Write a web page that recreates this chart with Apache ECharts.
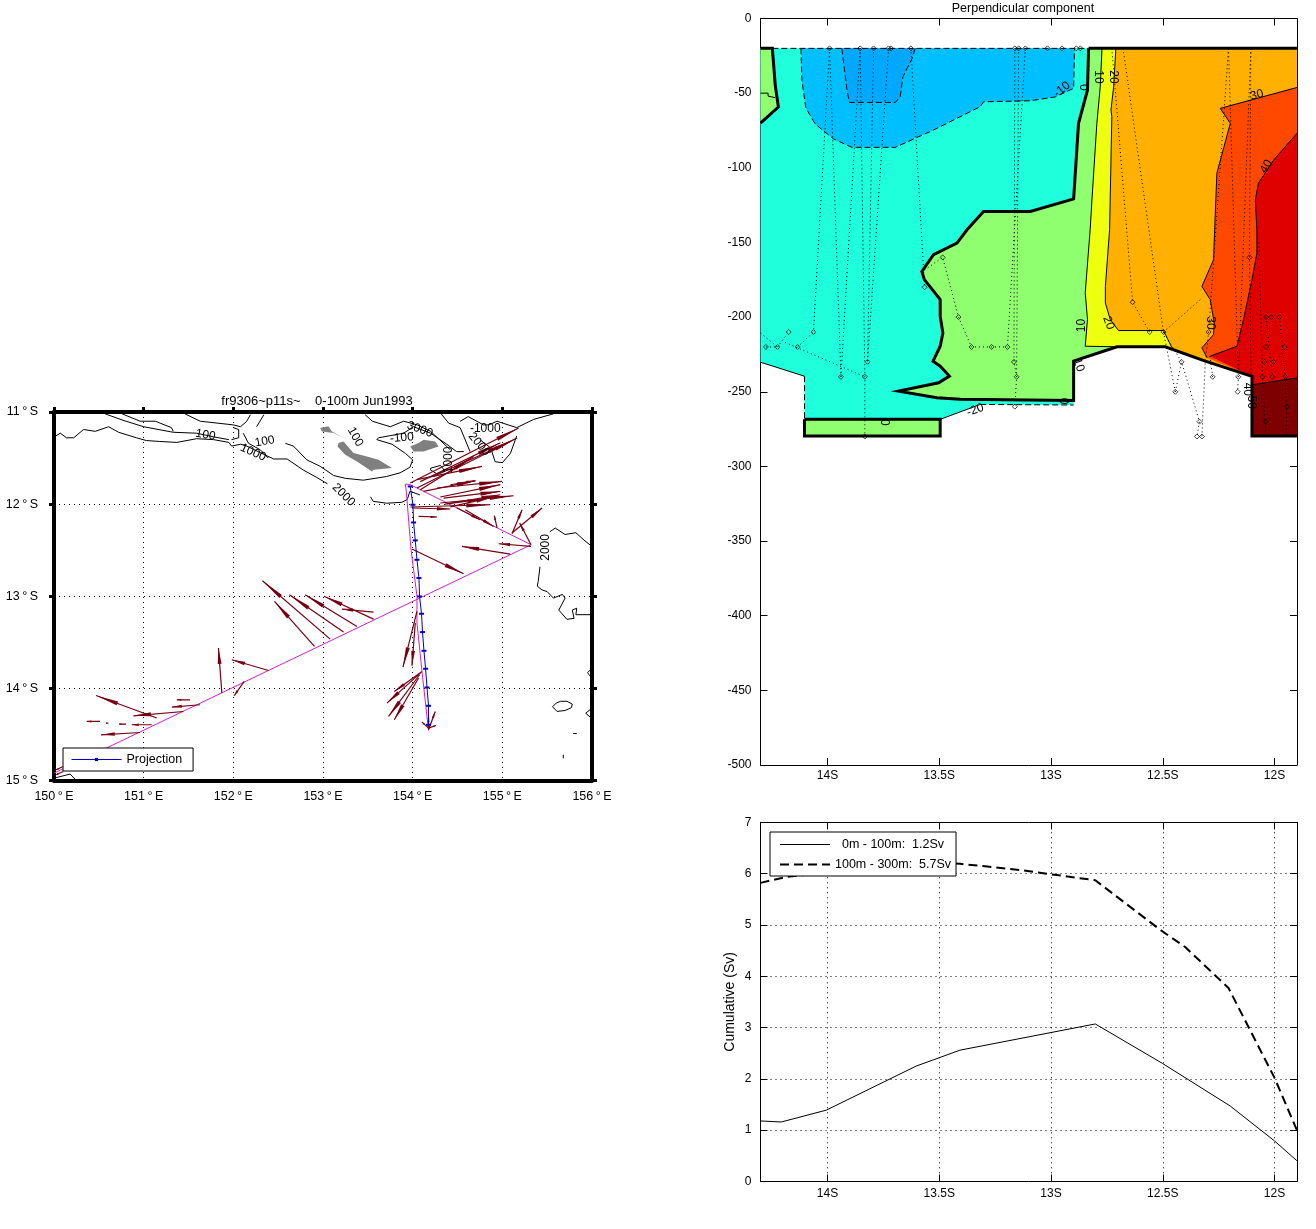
<!DOCTYPE html>
<html>
<head>
<meta charset="utf-8">
<style>html,body{margin:0;padding:0;background:#fff}#c{width:1316px;height:1229px}</style>
<script src="https://cdn.jsdelivr.net/npm/echarts@6/dist/echarts.min.js"></script>
</head>
<body>
<div id="c"></div>
<script>
const FONT = '"Liberation Sans", Arial, sans-serif';

/* ---------- tick labels ---------- */
const mapLonTicks = [150,151,152,153,154,155,156];
const mapLatTicks = [-15,-14,-13,-12,-11];
const sectionLatTicks = [-14,-13.5,-13,-12.5,-12];

/* ---------- cumulative transport (lat, Sv) ---------- */
const upperLayerName = '0m - 100m:  1.2Sv';
const lowerLayerName = '100m - 300m:  5.7Sv';
const upperLayer = [[-14.3,1.18],[-14.207,1.16],[-14.006,1.39],[-13.603,2.25],[-13.407,2.56],[-12.802,3.07],[-12.501,2.30],[-12.198,1.47],[-12.0,0.79],[-11.9,0.405]];
const lowerLayer = [[-14.3,5.82],[-14.18,5.94],[-14.0,6.02],[-13.85,6.15],[-13.63,6.26],[-13.5,6.22],[-13.407,6.19],[-13.286,6.14],[-13.14,6.07],[-12.802,5.87],[-12.51,4.9],[-12.4,4.57],[-12.206,3.77],[-12.0,2.02],[-11.9,1.0]];

/* ---------- section: contour regions (lat, depth) ---------- */
const cyanRegion = [[-14.3,-20],[-12.82,-20],[-12.82,-60],[-12.899,-120.8],[-12.899,-258.9],[-13.317,-258.5],[-13.496,-268.5],[-14.103,-268.5],[-14.103,-239.6],[-14.3,-230.2]];
const blueOuter = [[-14.119,-20],[-14.115,-41.3],[-14.097,-60],[-14.055,-70.7],[-13.973,-80.7],[-13.891,-86.3],[-13.697,-86.3],[-13.526,-74.7],[-13.317,-59.1],[-13.302,-55.8],[-13.093,-55.1],[-12.981,-52.5],[-12.899,-46.8],[-12.895,-20]];
const blueInner = [[-13.936,-20],[-13.913,-48],[-13.902,-56.2],[-13.697,-56.2],[-13.675,-52.5],[-13.663,-39.1],[-13.622,-26.8],[-13.608,-20]];
const greenLeft = [[-14.3,-20],[-14.247,-20],[-14.234,-44.6],[-14.22,-59.3],[-14.3,-70]];
const greenBox = [[-14.103,-268.5],[-13.496,-268.5],[-13.496,-279.7],[-14.103,-279.7],[-14.103,-268.5]];
const greenEdge = [[-12.832,-20],[-12.837,-48],[-12.877,-70.2],[-12.899,-120.8],[-13.093,-129.3],[-13.302,-129.3],[-13.376,-141.5],[-13.421,-150.4],[-13.526,-158.2],[-13.578,-169.4],[-13.567,-174.9],[-13.496,-188.3],[-13.496,-199.5],[-13.484,-210.6],[-13.496,-219.5],[-13.528,-229.5],[-13.496,-232.9],[-13.455,-239.5],[-13.503,-244],[-13.682,-249.6],[-13.511,-254],[-13.406,-255.1],[-12.899,-255.8],[-12.899,-229.5],[-12.705,-219.9],[-12.489,-219.9],[-12.31,-229.5],[-12.101,-239.6],[-12.101,-279.7],[-11.9,-279.7]];
const topRightEdge = [[-12.832,-20],[-11.9,-20]];
const yellowEdge = [[-12.772,-20],[-12.78,-45.8],[-12.795,-70.2],[-12.817,-121.5],[-12.825,-141.5],[-12.847,-183.6],[-12.837,-201.7],[-12.847,-219.5],[-12.705,-219.9]];
const orangeEdge = [[-12.71,-20],[-12.72,-45.8],[-12.732,-61.3],[-12.728,-65.8],[-12.738,-141.5],[-12.757,-179.4],[-12.757,-190.5],[-12.735,-201.7],[-12.698,-209],[-12.497,-209],[-12.459,-220.6]];
const orangeRedEdge = [[-11.9,-46.2],[-12.243,-60.2],[-12.198,-70.2],[-12.258,-103.6],[-12.268,-141.5],[-12.273,-161.6],[-12.325,-179.4],[-12.288,-188.3],[-12.27,-203.9],[-12.273,-211.7],[-12.325,-220.6],[-12.302,-227.3]];
const redEdge = [[-11.9,-76.9],[-12.004,-94.8],[-12.072,-110.3],[-12.086,-121.5],[-12.079,-141.5],[-12.079,-157.1],[-12.101,-174.9],[-12.139,-201.7],[-12.168,-219.5],[-12.288,-226.2]];
const darkRedEdge = [[-12.101,-245.8],[-12.09,-245.1],[-11.9,-240.7]];
const sectionFloorEast = [[-12.705,-219.9],[-12.489,-219.9],[-12.31,-229.5]];
const sectionFloorDeep = [[-12.101,-239.6],[-12.101,-279.7],[-11.9,-279.7]];
const sectionNorthTop = [[-11.9,-20]];
const whiteEdgeWest = [[-14.3,-230.2],[-14.103,-239.6]];
const whiteEdgeStep = [[-14.103,-239.6],[-14.103,-268.5]];
const whiteEdgeBox = [[-13.496,-268.5],[-13.317,-258.5]];
const whiteEdgeFloor = [[-13.317,-258.5],[-12.899,-258.9]];
const surfaceEdge = [[-14.247,-20],[-12.832,-20]];
const smallLeftContour = [[-14.3,-50],[-14.266,-50],[-14.266,-52],[-14.235,-53]];

/* ---------- section: sample stations ---------- */
const stationLat = [-13.991,-13.854,-13.794,-13.727,-13.716,-13.627,-13.162,-13.145,-13.115,-13.016,-12.951,-12.887,-12.869,
 -14.276,-14.224,-14.174,-14.134,-14.063,-13.94,-13.833,-13.821,-13.833,-13.566,-13.485,-13.414,-13.356,-13.266,-13.195,-13.166,-13.154,-13.162,
 -12.635,-12.559,-12.497,-12.444,-12.416,-12.347,-12.336,-12.325,-12.295,-12.277,-12.162,-12.165,-12.112,-12.038,-12.015,-11.978,-12.038,-11.955,-12.045,-12.004,-12.054,-12.01,-11.952,-11.944,-12.04];
const stationDepth = [-20,-20,-20,-20,-20,-20,-20,-20,-20,-20,-20,-20,-20,
 -220,-220,-210,-220,-210,-240,-240,-230,-280,-180,-160,-200,-220,-220,-220,-230,-240,-260,
 -190,-210,-210,-250,-230,-280,-270,-280,-210,-240,-240,-250,-160,-200,-200,-200,-220,-220,-230,-230,-240,-240,-240,-260,-270];
const stationTracks = [
 [[-14.3,-210.6],[-14.224,-220]],[[-14.224,-220],[-14.174,-210]],[[-14.276,-220],[-14.224,-220]],[[-14.134,-220],[-14.063,-210]],
 [[-14.19,-217],[-13.833,-240]],[[-13.991,-20],[-14.063,-210]],[[-13.991,-20],[-13.94,-240]],[[-13.854,-20],[-13.94,-240]],
 [[-13.854,-20],[-13.833,-240],[-13.833,-280]],[[-13.794,-20],[-13.821,-230]],[[-13.727,-20],[-13.821,-230]],[[-13.627,-20],[-13.566,-180]],
 [[-13.581,-170],[-13.485,-160],[-13.414,-200],[-13.356,-220],[-13.266,-220],[-13.195,-220]],
 [[-13.162,-20],[-13.166,-230],[-13.154,-240],[-13.162,-260]],[[-13.145,-20],[-13.154,-240]],[[-13.115,-20],[-13.195,-220]],
 [[-12.728,-20],[-12.635,-190],[-12.559,-210]],[[-12.678,-20],[-12.497,-210],[-12.416,-230],[-12.336,-270],[-12.347,-280]],
 [[-12.497,-210],[-12.444,-250]],[[-12.444,-250],[-12.416,-230]],[[-12.497,-210],[-12.33,-188]],
 [[-12.206,-20],[-12.295,-210],[-12.31,-230],[-12.325,-280]],[[-12.206,-20],[-12.162,-240],[-12.165,-250]],
 [[-12.106,-20],[-12.162,-240]],[[-12.106,-20],[-12.112,-160],[-12.105,-240]],[[-12.277,-240],[-12.29,-225]],
 [[-12.07,-150],[-12.054,-240],[-12.04,-280]],[[-12.038,-200],[-12.01,-240]],[[-11.978,-200],[-11.952,-240],[-11.944,-280]]
];
const sectionLabels = [
 ['0',-13.737,-270.5,90],['-20',-13.339,-262.3,20],['-10',-12.951,-47.5,40],['0',-12.847,-46.2,90],
 ['10',-12.787,-39.1,-90],['20',-12.72,-39.1,-90],['30',-12.079,-51.3,15],['40',-12.037,-99.2,60],
 ['10',-12.862,-205.7,90],['20',-12.743,-203.9,-70],['30',-12.288,-203.9,-90],['0',-12.936,-256.3,90],
 ['10',-12.877,-232.2,-70],['40',-12.121,-248.4,-90],['50',-12.106,-257,-90]
];

/* ---------- map: bathymetry contours (lon, lat) ---------- */
const bathyContours = [
 [[150.02,-11.26],[150.07,-11.23],[150.14,-11.28],[150.22,-11.28],[150.33,-11.19],[150.46,-11.21],[150.61,-11.16],[150.72,-11.22],[150.92,-11.28],[151.03,-11.31],[151.18,-11.32],[151.37,-11.33],[151.59,-11.29],[151.78,-11.30],[151.95,-11.33],[151.98,-11.37],[152.08,-11.35],[152.15,-11.37],[152.34,-11.46],[152.45,-11.51],[152.60,-11.51],[152.78,-11.63],[152.93,-11.71],[153.05,-11.78]],
 [[152.58,-11.34],[152.67,-11.37],[152.82,-11.52],[152.97,-11.59],[153.12,-11.69],[153.25,-11.72],[153.45,-11.74],[153.71,-11.70],[153.86,-11.66],[153.97,-11.60],[154.0,-11.52],[153.92,-11.45],[153.77,-11.35],[153.60,-11.30],[153.62,-11.28],[153.90,-11.23],[154.01,-11.16],[154.2,-11.23],[154.38,-11.35],[154.49,-11.43],[154.57,-11.43]],
 [[150.57,-11.02],[150.77,-11.09],[151.0,-11.16],[151.33,-11.22],[151.59,-11.23],[151.78,-11.27],[151.95,-11.30]],
 [[150.76,-11.02],[150.96,-11.10],[151.13,-11.10],[151.31,-11.17],[151.33,-11.21]],
 [[151.46,-11.02],[151.63,-11.10],[152.0,-11.14],[152.08,-11.16],[152.15,-11.10],[152.19,-11.03]],
 [[152.0,-11.17],[152.06,-11.19],[152.06,-11.28],[151.98,-11.30]],
 [[152.11,-11.23],[152.17,-11.34],[152.3,-11.41],[152.39,-11.5]],
 [[152.26,-11.16],[152.34,-11.03]],
 [[153.47,-11.03],[153.55,-11.10],[153.75,-11.16],[153.90,-11.10],[154.05,-11.14],[154.2,-11.21],[154.42,-11.41]],
 [[154.31,-11.01],[154.40,-11.12],[154.53,-11.17],[154.64,-11.43]],
 [[154.53,-11.10],[154.62,-11.05],[154.79,-11.14],[154.85,-11.14],[154.94,-11.10],[155.16,-11.17],[155.35,-11.08],[155.57,-11.02]],
 [[154.75,-11.30],[154.87,-11.39],[154.92,-11.54],[155.0,-11.55],[155.09,-11.45],[155.16,-11.26]],
 [[154.2,-11.61],[154.31,-11.58],[154.36,-11.64],[154.27,-11.67],[154.2,-11.63],[154.2,-11.61]],
 [[153.53,-11.92],[153.56,-11.97],[153.71,-11.99],[153.88,-11.98],[153.94,-11.95],[153.97,-11.86],[154.08,-11.90]],
 [[155.53,-12.30],[155.59,-12.26],[155.70,-12.33],[155.82,-12.31],[155.91,-12.39],[156.0,-12.46]],
 [[155.42,-12.68],[155.40,-12.84],[155.39,-12.89],[155.44,-12.93],[155.50,-12.95],[155.57,-13.02],[155.67,-12.98],[155.70,-13.02],[155.63,-13.15],[155.72,-13.25],[155.80,-13.24],[155.78,-13.15],[155.83,-13.13],[155.82,-13.2],[156.0,-13.2]],
 [[155.56,-14.20],[155.60,-14.16],[155.65,-14.14],[155.72,-14.14],[155.78,-14.17],[155.77,-14.21],[155.70,-14.24],[155.61,-14.25],[155.56,-14.20]],
 [[155.98,-13.80],[155.95,-13.83],[156.0,-13.89]],
 [[155.98,-14.23],[155.93,-14.27],[155.99,-14.32]],
 [[155.79,-14.49],[155.83,-14.49]],
 [[155.68,-14.72],[155.68,-14.76]],
 [[150.02,-14.97],[150.18,-14.93],[150.25,-15.0]]
];
const bathyLabels = [
 ['100',151.69,-11.25,-10],['100',152.35,-11.32,10],['1000',152.22,-11.44,-25],['2000',153.23,-11.90,-45],
 ['100',153.36,-11.27,-60],['-100',153.88,-11.28,5],['3000',154.08,-11.19,-20],['-1000',154.81,-11.18,0],
 ['2000',154.74,-11.35,-50],['1000',154.40,-11.52,90],['2000',155.48,-12.47,90]
];
const islands = [
 [[153.173,-11.337],[153.229,-11.319],[153.34,-11.445],[153.49,-11.482],[153.619,-11.518],[153.769,-11.608],[153.564,-11.626],[153.546,-11.645],[153.378,-11.536],[153.248,-11.464],[153.162,-11.374]],
 [[152.969,-11.174],[153.061,-11.156],[153.1,-11.211],[153.229,-11.282],[153.117,-11.228],[152.988,-11.211]],
 [[153.973,-11.374],[154.066,-11.337],[154.122,-11.301],[154.252,-11.319],[154.289,-11.374],[154.122,-11.428],[154.01,-11.428]]
];

/* ---------- map: ship track and projection ---------- */
const shipTrack = [[150.0,-14.92],[155.32,-12.441],[153.973,-11.789],[153.917,-11.782],[153.929,-11.862],[153.981,-12.488],[154.048,-13.0],[154.048,-13.291],[154.104,-13.817],[154.177,-14.457]];
const projectionName = 'Projection';
const projectionLine = [[153.973,-11.808],[154.003,-12.007],[154.01,-12.199],[154.029,-12.394],[154.048,-12.604],[154.07,-12.802],[154.077,-13.002],[154.099,-13.19],[154.11,-13.389],[154.126,-13.592],[154.144,-13.787],[154.16,-13.99],[154.177,-14.189],[154.177,-14.395]];

/* ---------- map: current arrows (tail lon, tail lat, tip lon, tip lat) ---------- */
const currentArrows = [
 [152.905,-13.545,152.459,-13.056],[153.08,-13.465,152.325,-12.832],[153.229,-13.389,152.626,-12.984],[153.378,-13.328,152.801,-12.984],[153.564,-13.248,153.017,-13.002],[153.564,-13.172,153.211,-13.139],
 [153.973,-11.771,155.182,-11.174],[154.048,-11.825,155.164,-11.282],[154.085,-11.844,154.68,-11.482],[154.048,-11.735,154.773,-11.591],[154.122,-11.862,154.699,-11.746],[154.271,-11.825,154.997,-11.754],[154.308,-11.923,154.978,-11.789],[154.345,-11.934,154.978,-11.862],[154.308,-11.988,155.126,-11.909],[154.383,-11.996,154.978,-11.898],[153.973,-12.031,154.866,-12.007],[153.992,-12.042,154.42,-12.053],[154.066,-12.134,154.271,-12.14],[154.587,-12.061,154.903,-12.242],
 [154.23,-11.70,155.09,-11.32],[154.085,-11.756,154.978,-11.333],[154.42,-12.03,154.87,-11.93],[154.36,-12.0,154.75,-11.95],[154.42,-11.79,154.70,-11.745],[154.49,-12.04,154.75,-12.17],
 [154.941,-12.259,154.911,-12.126],[155.108,-12.321,155.22,-12.061],[155.108,-12.314,155.443,-12.042],[155.32,-12.441,155.193,-12.205],[155.32,-12.459,154.959,-12.43],[155.089,-12.542,154.55,-12.459],[153.992,-12.488,154.568,-12.756],
 [152.392,-13.806,151.983,-13.689],[151.872,-14.051,151.834,-13.562],[152.121,-13.925,152.009,-14.08],[151.629,-14.178,151.314,-14.203],[151.518,-14.124,151.369,-14.124],[151.443,-14.251,150.885,-14.298],[151.146,-14.322,150.469,-14.077],[151.09,-14.395,150.867,-14.395],[150.804,-14.388,150.725,-14.388],[150.606,-14.377,150.58,-14.377],[150.513,-14.359,150.365,-14.359],[150.96,-14.479,150.525,-14.504],[150.104,-14.848,150.022,-14.884],[150.104,-14.902,150.022,-14.938],
 [154.048,-13.165,153.892,-13.769],[154.029,-13.291,153.992,-13.755],[154.104,-13.817,153.795,-14.034],[154.085,-13.834,153.713,-14.16],[154.077,-13.852,153.731,-14.305],[154.066,-13.888,153.795,-14.341],[154.177,-14.45,154.252,-14.251],[154.177,-14.431,154.104,-14.366],[154.177,-14.431,154.26,-14.403],[154.177,-14.442,154.177,-14.322]
];

/* ---------- text ---------- */
const mapTitle = 'fr9306~p11s~    0-100m Jun1993';
const sectionTitle = 'Perpendicular component';
const cumulativeAxisName = 'Cumulative (Sv)';

/* ---------- colours ---------- */
const C = {inner:'#00a8ff',outer:'#00bfff',cyan:'#1fffdc',green:'#8fff70',yellow:'#efff10',orange:'#ffb000',orangeRed:'#ff4800',red:'#df0000',dark:'#7f0000',arrow:'#750012',track:'#d020d0',proj:'#0000c8',island:'#808080'};

/* ---------- helpers ---------- */
function polygonSeries(points, fill, ax){
  return {type:'custom',coordinateSystem:'cartesian2d',xAxisIndex:ax,yAxisIndex:ax,silent:true,clip:true,animation:false,data:points,encode:{x:0,y:1},
    renderItem:(p,api)=> p.dataIndex!==0?null:{type:'polygon',shape:{points:points.map(q=>api.coord(q))},style:{fill:fill}}};
}
function lineSeries(points, opt, ax){
  return {type:'custom',coordinateSystem:'cartesian2d',xAxisIndex:ax,yAxisIndex:ax,silent:true,clip:true,animation:false,data:points,encode:{x:0,y:1},
    renderItem:(p,api)=> p.dataIndex!==0?null:{type:'polyline',shape:{points:points.map(q=>api.coord(q))},style:Object.assign({fill:'none',stroke:'#000',lineWidth:1},opt)}};
}
function labelSeries(rows, size, ax){
  return {type:'custom',coordinateSystem:'cartesian2d',xAxisIndex:ax,yAxisIndex:ax,silent:true,animation:false,z:6,data:rows.map(r=>[r[1],r[2]]),encode:{x:0,y:1},
    renderItem:(p,api)=>{const r=rows[p.dataIndex],c=api.coord([r[1],r[2]]);
      return {type:'text',x:c[0],y:c[1],rotation:r[3]*Math.PI/180,style:{text:r[0],fill:'#000',font:size+'px '+FONT,align:'center',verticalAlign:'middle'}};}};
}
const arrowSeries = {type:'custom',coordinateSystem:'cartesian2d',xAxisIndex:0,yAxisIndex:0,silent:true,animation:false,clip:true,z:4,data:currentArrows,encode:{x:[0,2],y:[1,3]},
  renderItem:(p,api)=>{
    const a=api.coord([api.value(0),api.value(1)]),b=api.coord([api.value(2),api.value(3)]);
    const dx=b[0]-a[0],dy=b[1]-a[1],L=Math.hypot(dx,dy)||1,ux=dx/L,uy=dy/L;
    const h=Math.min(L*0.35,24),w=Math.min(L*0.03+0.6,2),m=[b[0]-ux*h,b[1]-uy*h];
    return {type:'group',children:[
      {type:'line',shape:{x1:a[0],y1:a[1],x2:b[0],y2:b[1]},style:{stroke:C.arrow,lineWidth:1.2}},
      {type:'polygon',shape:{points:[b,[m[0]-uy*w,m[1]+ux*w],[m[0]+uy*w,m[1]-ux*w]]},style:{fill:C.arrow}}
    ]};
  }};

/* ---------- axes ---------- */
const grids = [
  {left:54,top:412,width:538,height:368.5},
  {left:760.5,top:18.5,width:536.4,height:746.5},
  {left:760.5,top:822.3,width:536.4,height:359.2}
];
const dotted = {show:true,lineStyle:{color:'#000',type:[1,4],width:1}};
const thin = {show:true,onZero:false,lineStyle:{color:'#000',width:1}};
const thick = {show:true,onZero:false,lineStyle:{color:'#000',width:4}};
const latLabel = v=>Math.abs(v)+'S';
const lbl = {color:'#000',fontFamily:FONT,fontSize:12};
const mapLbl = {color:'#000',fontFamily:FONT,fontSize:12.5};
const customLatAxis = (grid,pos,show,split,margin)=>({type:'value',gridIndex:grid,position:pos,min:-14.3,max:-11.9,axisLine:thin,
  axisTick:{show:true,inside:true,length:7,customValues:sectionLatTicks,lineStyle:{color:'#000'}},
  axisLabel:show?Object.assign({show:true,margin:margin,formatter:latLabel,customValues:sectionLatTicks,hideOverlap:false},lbl):{show:false},
  splitLine:split?dotted:{show:false}});

const xAxes = [
  {type:'value',gridIndex:0,position:'bottom',min:150,max:156,interval:1,axisLine:thick,axisTick:{show:false},
   axisLabel:Object.assign({margin:10,formatter:v=>v+'\u2009°\u2009E',customValues:mapLonTicks},mapLbl),splitLine:dotted},
  {type:'value',gridIndex:0,position:'top',min:150,max:156,interval:1,axisLine:thick,axisTick:{show:true,length:5,lineStyle:{color:'#000',width:3}},axisLabel:{show:false},splitLine:{show:false}},
  customLatAxis(1,'bottom',true,false,5),customLatAxis(1,'top',false,false,0),
  customLatAxis(2,'bottom',true,true,6),customLatAxis(2,'top',false,false,0)
];
const yAxes = [
  {type:'value',gridIndex:0,position:'left',min:-15,max:-11,interval:1,axisLine:thick,axisTick:{show:true,length:5,lineStyle:{color:'#000',width:3}},
   axisLabel:Object.assign({margin:16,padding:[5,0,0,0],formatter:v=>Math.abs(v)+'\u2009°\u2009S',customValues:mapLatTicks},mapLbl),splitLine:dotted},
  {type:'value',gridIndex:0,position:'right',min:-15,max:-11,interval:1,axisLine:thick,axisTick:{show:true,length:5,lineStyle:{color:'#000',width:3}},axisLabel:{show:false},splitLine:{show:false}},
  {type:'value',gridIndex:1,position:'left',min:-500,max:0,interval:50,axisLine:thin,axisTick:{show:true,inside:true,length:7,lineStyle:{color:'#000'}},axisLabel:Object.assign({margin:9},lbl),splitLine:{show:false}},
  {type:'value',gridIndex:1,position:'right',min:-500,max:0,interval:50,axisLine:thin,axisTick:{show:true,inside:true,length:7,lineStyle:{color:'#000'}},axisLabel:{show:false},splitLine:{show:false}},
  {type:'value',gridIndex:2,position:'left',min:0,max:7,interval:1,axisLine:thin,axisTick:{show:true,inside:true,length:7,lineStyle:{color:'#000'}},axisLabel:Object.assign({margin:9},lbl),splitLine:dotted,
   name:cumulativeAxisName,nameLocation:'middle',nameRotate:90,nameGap:23,nameTextStyle:{color:'#000',fontFamily:FONT,fontSize:14}},
  {type:'value',gridIndex:2,position:'right',min:0,max:7,interval:1,axisLine:thin,axisTick:{show:true,inside:true,length:7,lineStyle:{color:'#000'}},axisLabel:{show:false},splitLine:{show:false}}
];

/* ---------- series ---------- */
const series = [];
/* map: axes 0 */
bathyContours.forEach(c=>series.push(lineSeries(c,{lineWidth:1},0)));
islands.forEach(i=>series.push(polygonSeries(i,C.island,0)));
series.push(labelSeries(bathyLabels,12,0));
series.push({type:'line',name:'Track',xAxisIndex:0,yAxisIndex:0,data:shipTrack,showSymbol:false,lineStyle:{color:C.track,width:1},animation:false,silent:true,z:3});
series.push(arrowSeries);
series.push({type:'line',name:projectionName,xAxisIndex:0,yAxisIndex:0,data:projectionLine,symbol:'rect',symbolSize:[5,2],showSymbol:true,
  itemStyle:{color:C.proj},lineStyle:{color:C.proj,width:1},animation:false,silent:true,z:5});
/* section: axes 2 */
const S = 2;
series.push(polygonSeries(cyanRegion,C.cyan,S));
series.push(polygonSeries(blueOuter,C.outer,S));
series.push(polygonSeries(blueInner,C.inner,S));
series.push(polygonSeries(greenLeft,C.green,S));
series.push(polygonSeries(greenBox,C.green,S));
series.push(polygonSeries(greenEdge.concat(sectionNorthTop),C.green,S));
series.push(polygonSeries(yellowEdge.concat(sectionFloorEast.slice(1),sectionFloorDeep,sectionNorthTop),C.yellow,S));
series.push(polygonSeries(orangeEdge.concat([sectionFloorEast[2]],sectionFloorDeep,sectionNorthTop),C.orange,S));
series.push(polygonSeries(orangeRedEdge.concat(sectionFloorDeep),C.orangeRed,S));
series.push(polygonSeries(redEdge.concat(sectionFloorDeep),C.red,S));
series.push(polygonSeries(darkRedEdge.concat([[-11.9,-279.7],[-12.101,-279.7]]),C.dark,S));
[blueOuter,blueInner,surfaceEdge,whiteEdgeStep,whiteEdgeFloor].forEach(c=>series.push(lineSeries(c,{lineWidth:1,lineDash:[6,3]},S)));
[whiteEdgeWest,whiteEdgeBox,yellowEdge,orangeEdge,orangeRedEdge,redEdge,darkRedEdge,smallLeftContour].forEach(c=>series.push(lineSeries(c,{lineWidth:1},S)));
stationTracks.forEach(t=>series.push(lineSeries(t,{lineWidth:1,lineDash:[1,3]},S)));
[greenEdge,topRightEdge,greenLeft,greenBox].forEach(c=>series.push(lineSeries(c,{lineWidth:3},S)));
series.push({type:'scatter',name:'Stations',xAxisIndex:S,yAxisIndex:S,data:stationLat.map((v,i)=>[v,stationDepth[i]]),symbol:'diamond',symbolSize:5,
  itemStyle:{color:'rgba(0,0,0,0)',borderColor:'#000',borderWidth:0.9},animation:false,silent:true,z:5});
series.push(labelSeries(sectionLabels,12,S));
/* cumulative: axes 4 */
series.push({type:'line',name:upperLayerName,xAxisIndex:4,yAxisIndex:4,data:upperLayer,showSymbol:false,symbol:'none',lineStyle:{color:'#000',width:1},itemStyle:{color:'#000'},animation:false,silent:true});
series.push({type:'line',name:lowerLayerName,xAxisIndex:4,yAxisIndex:4,data:lowerLayer,showSymbol:false,symbol:'none',lineStyle:{color:'#000',width:2,type:[9,5]},itemStyle:{color:'#000'},animation:false,silent:true});

const titleStyle = s=>({fontSize:s,fontWeight:'normal',color:'#000',fontFamily:FONT});
const option = {
  backgroundColor:'#fff',animation:false,
  textStyle:{fontFamily:FONT},
  title:[
    {text:mapTitle,left:317,top:395,padding:0,textAlign:'center',textStyle:titleStyle(13)},
    {text:sectionTitle,left:1023,top:2,padding:0,textAlign:'center',textStyle:titleStyle(12.5)}
  ],
  grid:grids,xAxis:xAxes,yAxis:yAxes,series:series,
  legend:[
    {data:[projectionName],left:63,top:748,itemWidth:50,itemHeight:4,padding:[5,11,5,8],itemGap:4,selectedMode:false,backgroundColor:'#fff',borderColor:'#000',borderWidth:1,borderRadius:0,
     lineStyle:{width:1},textStyle:{color:'#000',fontFamily:FONT,fontSize:12.5}},
    {data:[{name:upperLayerName,lineStyle:{width:1}},{name:lowerLayerName,lineStyle:{width:2}}],orient:'vertical',left:770,top:832,itemWidth:50,itemHeight:10,padding:[6,5,5,9],itemGap:7,selectedMode:false,backgroundColor:'#fff',borderColor:'#000',borderWidth:1,borderRadius:0,
     itemStyle:{opacity:0},lineStyle:{opacity:1},
     formatter:n=>n===upperLayerName?'  '+n:n,textStyle:{color:'#000',fontFamily:FONT,fontSize:12.5}}
  ]
};
echarts.init(document.getElementById('c'),null,{renderer:'canvas'}).setOption(option);
</script>
</body>
</html>
